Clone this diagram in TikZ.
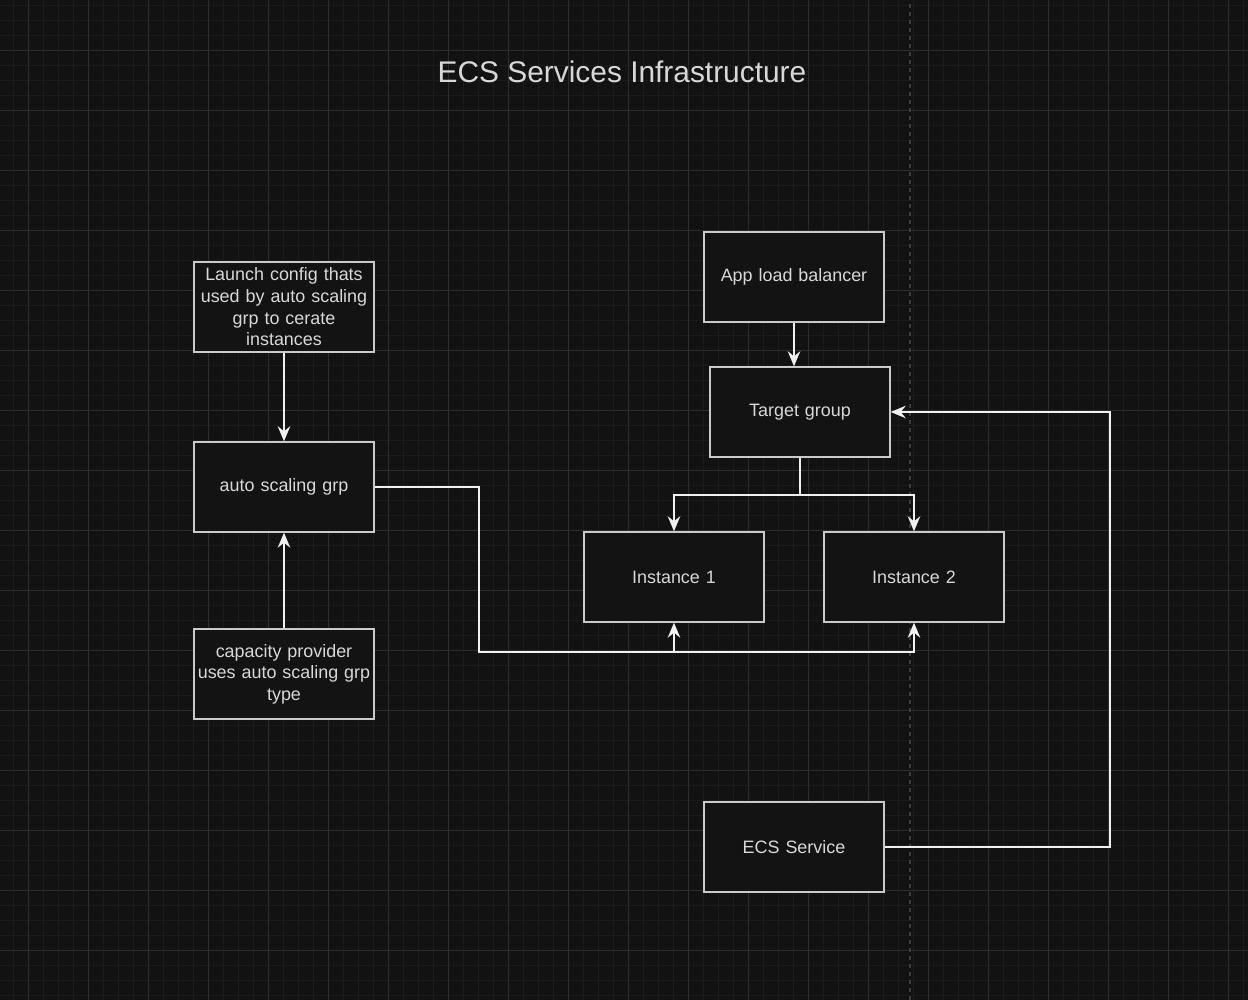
\documentclass[tikz,border=0pt]{standalone}
\usepackage{fontspec}
\setmainfont{Liberation Sans}
\usepackage{tikz}
\usetikzlibrary{arrows.meta}
\definecolor{bgdark}{HTML}{121212}
\definecolor{gridminor}{HTML}{1B1B1B}
\definecolor{gridmajor}{HTML}{2D2D2D}
\definecolor{pageline}{HTML}{3C3C3C}
\definecolor{boxfill}{HTML}{131313}
\definecolor{boxline}{HTML}{CACACA}
\definecolor{linewhite}{HTML}{F0F0F0}
\definecolor{txtgray}{HTML}{D8D8D8}

\begin{document}
\begin{tikzpicture}
                \tikzstyle{awsbox} = [draw=boxline, fill=boxfill, line width=0.8pt, minimum width=3.6cm, minimum height=1.8cm, text width=3.5cm, align=center, inner sep=0pt, text=txtgray, font=\fontsize{10.2}{12.3}\selectfont]
                \tikzstyle{link} = [draw=linewhite, line width=1pt, -{Stealth[length=3mm, width=2.5mm, inset=1mm]}]
                % background and grid
                \fill[bgdark] (0,0) rectangle (24.96,20);
                \useasboundingbox (0,0) rectangle (24.96,20);
                \begin{scope}
                    \clip (0,0) rectangle (24.96,20);
                    \begin{scope}[shift={(0.56,1.0)}]
                        \draw[step=0.3, gridminor, line width=0.5pt] (-1.2,-1.2) grid (25.2,20.4);
                        \draw[step=1.2, gridmajor, line width=0.5pt] (-1.2,-1.2) grid (25.2,20.4);
                    \end{scope}
                    \draw[pageline, line width=0.6pt, dash pattern=on 0.08cm off 0.08cm] (18.2,0) -- (18.2,20);
                \end{scope}
                \node[text=linewhite!90!black, font=\fontsize{17}{20}\selectfont] (title) at (12.44,18.56) {ECS Services Infrastructure};
                % left column
                \node[awsbox] (launch) at (5.68,13.86) {Launch config thats\\used by auto scaling\\grp to cerate\\instances};
                \node[awsbox] (asg) at (5.68,10.26) {auto scaling grp};
                \node[awsbox] (cap) at (5.68,6.52) {capacity provider\\uses auto scaling grp\\type};
                % right part
                \node[awsbox] (alb) at (15.88,14.46) {App load balancer};
                \node[awsbox] (tg) at (16.0,11.76) {Target group};
                \node[awsbox] (inst1) at (13.48,8.46) {Instance 1};
                \node[awsbox] (inst2) at (18.28,8.46) {Instance 2};
                \node[awsbox] (ecs) at (15.88,3.06) {ECS Service};
                \coordinate (bus) at (9.58,6.96);
                \draw[link] (launch) -- (asg);
                \draw[link] (cap) -- (asg);
                \draw[link] (alb.south) -- (alb.south |- tg.north);
                \draw[link] (tg.south) -- ++(0,-0.74) -| (inst1.north);
                \draw[link] (tg.south) -- ++(0,-0.74) -| (inst2.north);
                \draw[link] (asg.east) -| (bus) -| (inst1.south);
                \draw[link] (asg.east) -| (bus) -| (inst2.south);
                \draw[link] (ecs.east) -- ++(4.5,0) |- (tg.east);
            \end{tikzpicture}
\end{document}
